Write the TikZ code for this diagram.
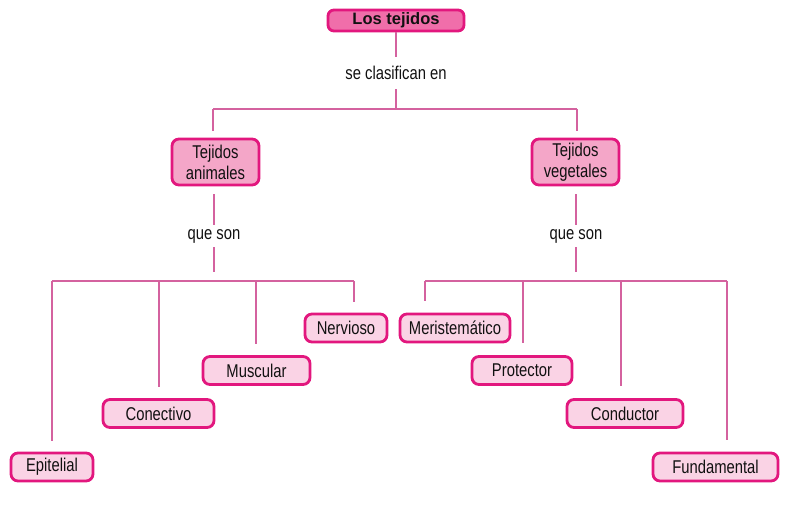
\documentclass[tikz,border=0pt]{standalone}
\usepackage{fontspec}
\setmainfont{Liberation Sans}
\newfontfamily\cond{Liberation Sans}[FakeStretch=0.8]
\definecolor{boxline}{HTML}{E2177E}
\definecolor{topfill}{HTML}{F06EAA}
\definecolor{midfill}{HTML}{F4A6C8}
\definecolor{leaffill}{HTML}{FAD3E5}
\definecolor{linec}{HTML}{D4629F}
\definecolor{txt}{HTML}{111111}
\begin{document}
\begin{tikzpicture}[x=1pt,y=-1pt,
  topbox/.style={draw=boxline, fill=topfill, line width=2.8pt, rounded corners=6pt,
     minimum width=136pt, minimum height=21pt, inner sep=0pt,
     font=\fontsize{16.5}{18}\selectfont\bfseries, text=txt},
  midbox/.style={draw=boxline, fill=midfill, line width=2.8pt, rounded corners=7pt,
     minimum width=87pt, minimum height=46pt, inner sep=0pt, align=center,
     font=\cond\fontsize{18.5}{21}\selectfont, text=txt},
  leaf/.style={draw=boxline, fill=leaffill, line width=2.8pt, rounded corners=7pt,
     minimum height=28pt, inner sep=0pt,
     font=\cond\fontsize{18.5}{21}\selectfont, text=txt},
  lbl/.style={inner sep=0pt, minimum height=32pt, font=\cond\fontsize{18.5}{21}\selectfont, text=txt},
  conn/.style={draw=linec, line width=2.4pt},
]
\useasboundingbox (0,0) rectangle (790,504);
% top
\node[topbox] (top) at (396,20.5) {Los tejidos};
\node[lbl, minimum height=32pt] (se) at (396,73) {se clasifican en};
\coordinate (j0) at (396,109);
\coordinate (jl) at (213,109);
\coordinate (jr) at (577,109);
\node[midbox] (ani) at (215.5,162) {Tejidos\\animales};
\node[midbox] (veg) at (575.5,162) {Tejidos\\vegetales};
\node[lbl, minimum height=22pt] (qa) at (214,236) {que son};
\node[lbl, minimum height=22pt] (qv) at (576,236) {que son};
\coordinate (ba) at (214,281);
\coordinate (bv) at (576,281);
% leaves
\node[leaf, minimum width=82pt] (ner) at (346,328) {Nervioso};
\node[leaf, minimum width=110pt] (mer) at (455,328) {Meristemático};
\node[leaf, minimum width=107pt] (mus) at (256.5,370.5) {Muscular};
\node[leaf, minimum width=100pt] (pro) at (522,370.5) {Protector};
\node[leaf, minimum width=111pt] (con) at (158.5,413.5) {Conectivo};
\node[leaf, minimum width=116pt] (cdr) at (625,413.5) {Conductor};
\node[leaf, minimum width=82pt] (epi) at (52,467) {Epitelial};
\node[leaf, minimum width=125pt] (fun) at (715.5,467) {Fundamental};
% bar ends
\coordinate (l1) at (52,281);
\coordinate (l2) at (159,281);
\coordinate (l3) at (256,281);
\coordinate (l4) at (354,281);
\coordinate (r1) at (425,281);
\coordinate (r2) at (523,281);
\coordinate (r3) at (621,281);
\coordinate (r4) at (727,281);
% connectors
\draw[conn] (top.south) -- (se.north);
\draw[conn] (se.south) -- (j0);
\draw[conn] (jl) -- (jr);
\draw[conn, shorten >=7pt] (jl) -- (jl |- ani.north);
\draw[conn, shorten >=7pt] (jr) -- (jr |- veg.north);
\draw[conn, shorten <=8pt] (qa |- ani.south) -- (qa.north);
\draw[conn, shorten <=8pt] (qv |- veg.south) -- (qv.north);
\draw[conn, shorten >=9pt] (qa.south) -- (ba);
\draw[conn, shorten >=9pt] (qv.south) -- (bv);
\draw[conn] (l1) -- (l4);
\draw[conn] (r1) -- (r4);
\draw[conn, shorten >=11pt] (l1) -- (l1 |- epi.north);
\draw[conn, shorten >=11pt] (l2) -- (l2 |- con.north);
\draw[conn, shorten >=11pt] (l3) -- (l3 |- mus.north);
\draw[conn, shorten >=11pt] (l4) -- (l4 |- ner.north);
\draw[conn, shorten >=12pt] (r1) -- (r1 |- mer.north);
\draw[conn, shorten >=12pt] (r2) -- (r2 |- pro.north);
\draw[conn, shorten >=12pt] (r3) -- (r3 |- cdr.north);
\draw[conn, shorten >=12pt] (r4) -- (r4 |- fun.north);
\end{tikzpicture}
\end{document}
